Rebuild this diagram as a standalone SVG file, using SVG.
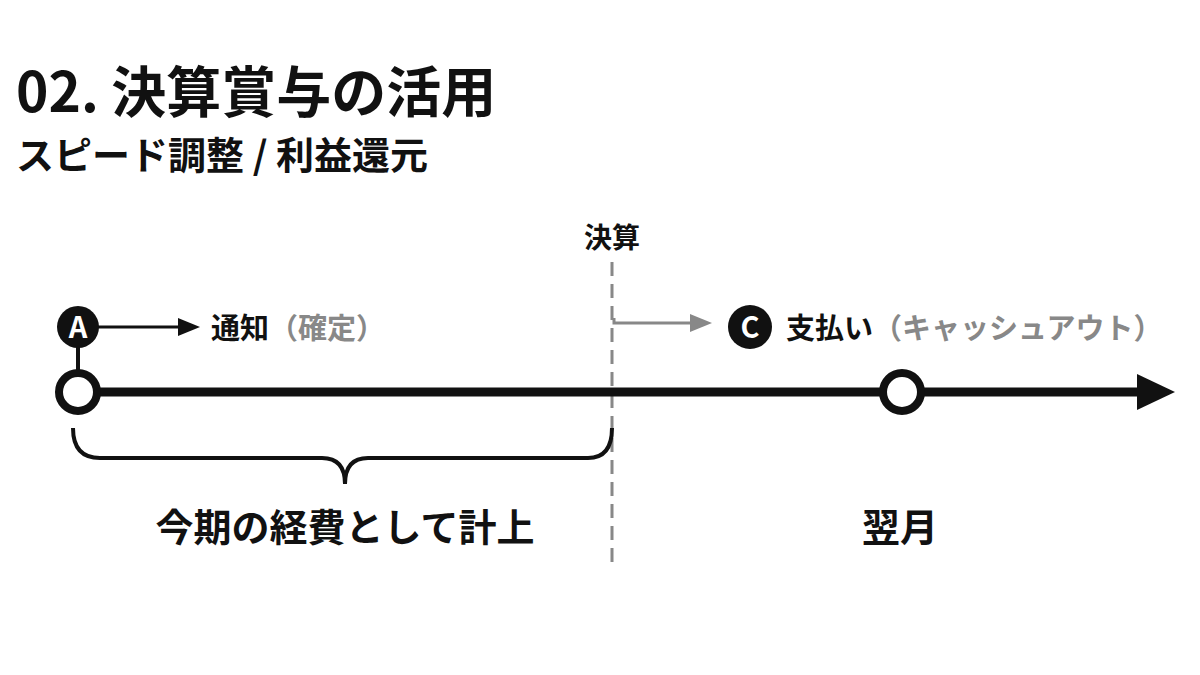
<svg xmlns="http://www.w3.org/2000/svg" width="1200" height="675" viewBox="0 0 1200 675">
<style>
text{font-family:"Noto Sans CJK JP","Noto Sans",sans-serif;font-weight:bold}
.k{fill:#111}.g{fill:#888}
</style>
<rect width="1200" height="675" fill="#fff"/>
<text x="16" y="112" font-size="55" class="k">02. 決算賞与の活用</text>
<text x="16" y="169" font-size="38" class="k">スピード調整 / 利益還元</text>
<g id="connectors">
<line x1="612" y1="262" x2="612" y2="562" stroke="#888" stroke-width="3" stroke-dasharray="14,8"/>
<line x1="78" y1="392" x2="1140" y2="392" stroke="#111" stroke-width="9"/>
<path d="M1137,374L1175,392L1137,410z" fill="#111"/>
<line x1="78" y1="340" x2="78" y2="372" stroke="#111" stroke-width="4"/>
<line x1="98" y1="327" x2="178" y2="327" stroke="#111" stroke-width="3"/>
<path d="M178,318L200,327L178,336z" fill="#111"/>
<path d="M614,318V323H690" fill="none" stroke="#888" stroke-width="3"/>
<path d="M690,314L712,323L690,332z" fill="#888"/>
<path d="M73,428Q73,458 100,458H322Q345,458 345,484Q345,458 368,458H588Q612,458 612,428" fill="none" stroke="#111" stroke-width="4"/>
</g>
<g id="nodeStart"><circle cx="78" cy="392" r="19" fill="#fff" stroke="#111" stroke-width="8"/></g>
<g id="nodeA"><circle cx="78" cy="327" r="21" fill="#111"/><text x="78" y="338" font-size="29" fill="#fff" text-anchor="middle">A</text></g>
<g id="labelA"><text x="211" y="339" font-size="29" class="k">通知<tspan class="g">（確定）</tspan></text></g>
<g id="kessan"><text x="612" y="248" font-size="28" class="k" text-anchor="middle">決算</text></g>
<g id="nodeC"><circle cx="750" cy="327" r="22" fill="#111"/><text x="750" y="338" font-size="29" fill="#fff" text-anchor="middle">C</text></g>
<g id="labelC"><text x="786" y="339" font-size="29" class="k">支払い<tspan class="g">（キャッシュアウト）</tspan></text></g>
<g id="nodeEnd"><circle cx="902" cy="392" r="19" fill="#fff" stroke="#111" stroke-width="8"/></g>
<text x="345" y="541" font-size="38" class="k" text-anchor="middle">今期の経費として計上</text>
<text x="900" y="541" font-size="38" class="k" text-anchor="middle">翌月</text>
</svg>
